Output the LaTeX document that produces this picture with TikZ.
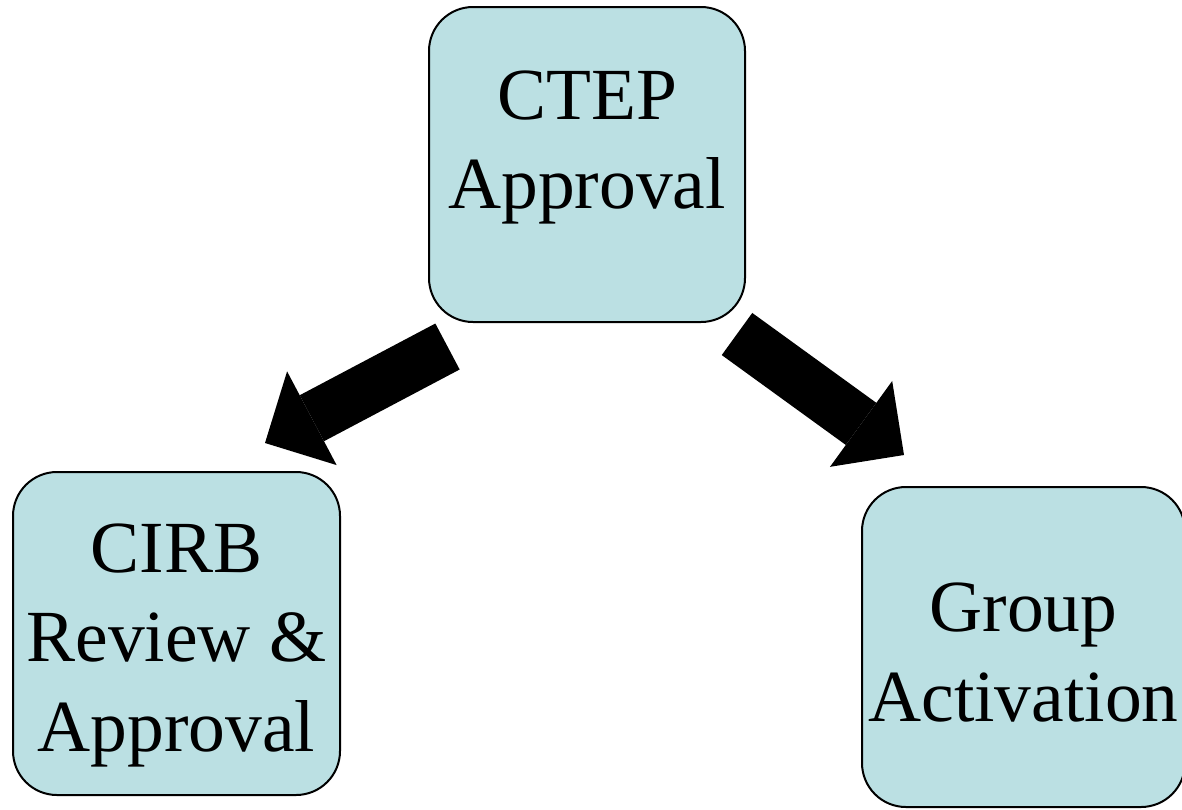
\documentclass[tikz,border=0pt]{standalone}
\usepackage{fontspec}
\setmainfont{Liberation Serif}
\usepackage{tikz}
\definecolor{paleblue}{RGB}{187,224,227}
\usetikzlibrary{arrows.meta}

\begin{document}
\begin{tikzpicture}[x=0.5pt,y=-0.5pt,
    box/.style={draw=black, line width=1pt, fill=paleblue, rounded corners=22pt, inner sep=0pt},
    boxtext/.style={align=center, font=\fontsize{36.75}{44.75}\selectfont, inner sep=0pt},
    bigarrow/.style={line width=26pt, -{Triangle[length=26.5pt, width=53pt, line width=0pt]}}
]
\useasboundingbox (0,0) rectangle (1182,809);
\node [box, minimum width=158pt, minimum height=157.5pt] (ctep) at (587,164.5) {};
\node [box, minimum width=163.5pt, minimum height=161.5pt] (cirb) at (176.5,633.5) {};
\node [box, minimum width=161.5pt, minimum height=160pt] (group) at (1023.5,647) {};
\node [boxtext] (ctep-text) at ([yshift=8.5pt]ctep.center) {CTEP\\Approval};
\node [boxtext] (cirb-text) at ([yshift=-5.75pt]cirb.center) {CIRB\\Review \&\\Approval};
\node [boxtext] (group-text) at ([yshift=-2.75pt]group.center) {Group\\Activation};
\coordinate (ctep-left) at (447.5,346.5);
\coordinate (cirb-top) at (265,443);
\coordinate (ctep-right) at (737,334);
\coordinate (group-top) at (904,455);
\draw [bigarrow] (ctep-left) -- (cirb-top);
\draw [bigarrow] (ctep-right) -- (group-top);
\end{tikzpicture}
\end{document}
